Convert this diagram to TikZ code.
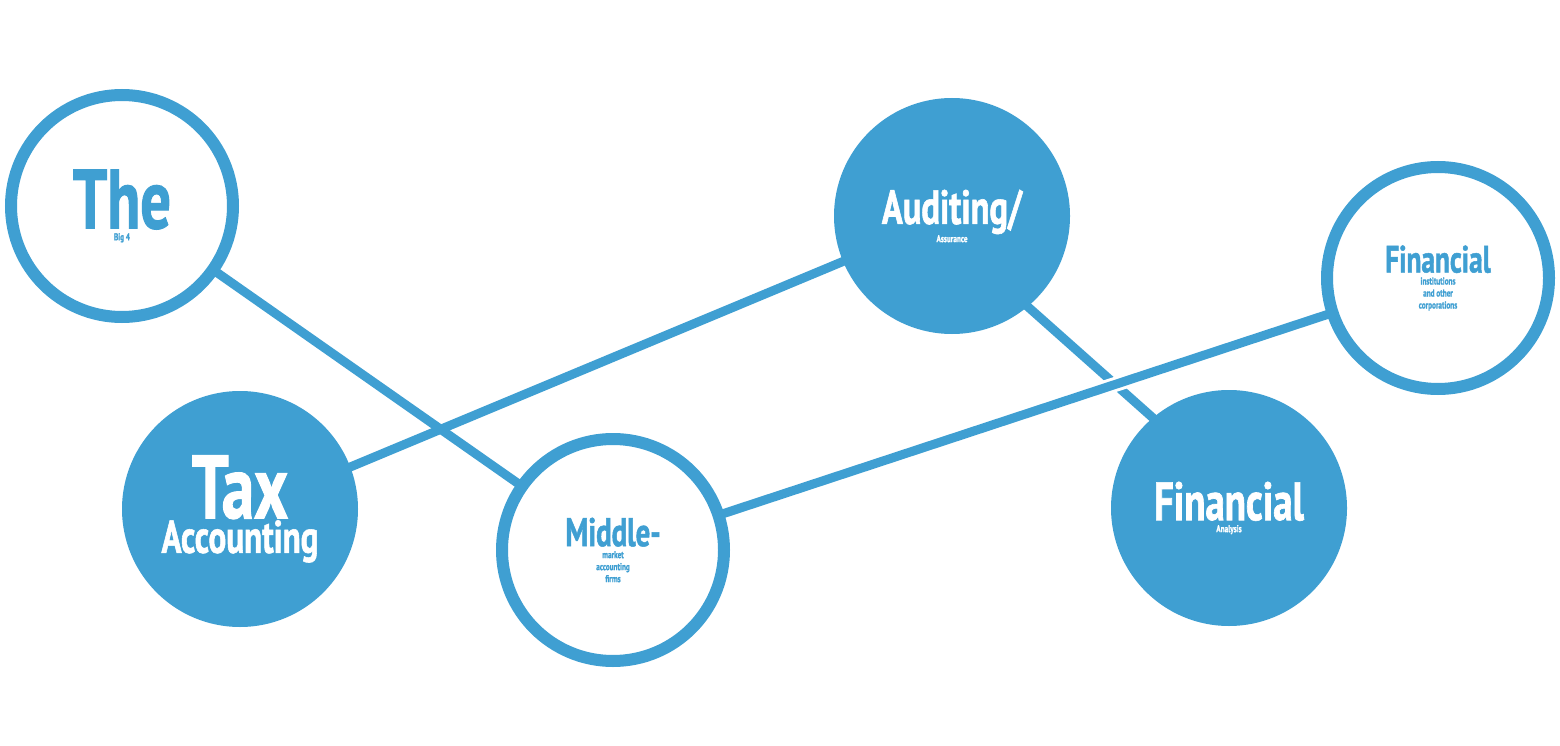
\documentclass[tikz,border=0pt]{standalone}
\usepackage{fontspec}
\usetikzlibrary{calc}
\newfontfamily\cond[FakeStretch=0.72,FakeBold=1.2]{PT Sans Bold}
\definecolor{bl}{HTML}{3F9FD2}
\newcommand\myfs[2]{\fontsize{#1}{#2}\selectfont}
\begin{document}
\begin{tikzpicture}[x=1pt,y=-1pt,
 ring/.style={circle,draw=bl,line width=12pt,fill=white,minimum size=222pt,inner sep=0pt,align=center,text=bl,font=\cond},
 disc/.style={circle,fill=bl,minimum size=236pt,inner sep=0pt,align=center,text=white,font=\cond},
 link/.style={draw=bl,line width=9pt},
 over/.style={draw=white,line width=15pt}]
\useasboundingbox (0,0) rectangle (1560,746);
\coordinate (b4) at (122,206);
\coordinate (tx) at (240,513);
\coordinate (mm) at (613,550);
\coordinate (au) at (952,216);
\coordinate (fi) at (1438,278);
\coordinate (fa) at (1229,508);
\coordinate (a1) at (1000,282);
\coordinate (a2) at (1180,442);
\path[link] (b4) -- (mm);
\path[link] (a1) -- (a2);
\path[over] ($(tx)!0.3!(au)$) -- ($(tx)!0.7!(au)$);
\path[link] (tx) -- (au);
\path[over] ($(mm)!0.3!(fi)$) -- ($(mm)!0.7!(fi)$);
\path[link] (mm) -- (fi);
\node[ring] (nb4) at (b4) {\myfs{84}{68}The\\Big 4};
\node[ring] (nmm) at (mm) {\myfs{40}{37}Middle-\\market\\accounting\\firms};
\node[ring] (nfi) at (fi) {\myfs{38}{33}Financial\\institutions\\and other\\corporations};
\node[disc] (ntx) at ([yshift=4pt]tx) {{\myfs{90}{70}Tax}\\{\myfs{46}{48}Accounting}};
\node[disc] (nau) at (au) {\myfs{48}{52}Auditing/\\Assurance};
\node[disc] (nfa) at (fa) {\myfs{54}{56}Financial\\Analysis};
\end{tikzpicture}
\end{document}
